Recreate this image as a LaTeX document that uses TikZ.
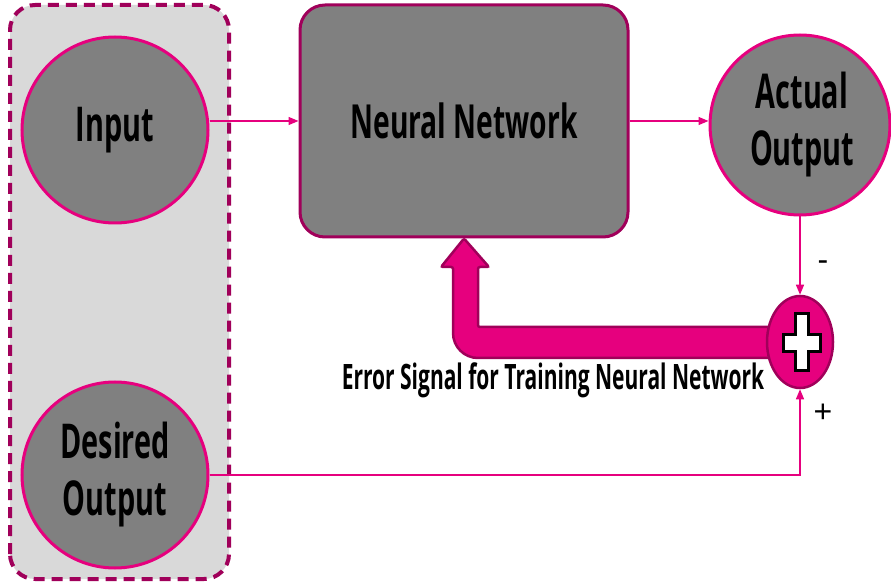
\documentclass[tikz,border=0pt]{standalone}
\usepackage{fontspec}
\setmainfont{Open Sans}
\newfontfamily\boxfont{Open Sans}[FakeStretch=0.6]
\newfontfamily\signfont{Liberation Sans}
\usetikzlibrary{arrows.meta,shapes.geometric}
\definecolor{pink}{HTML}{E6007E}
\definecolor{wine}{HTML}{A0005A}
\definecolor{slate}{HTML}{808080}
\definecolor{paper}{HTML}{D9D9D9}
\begin{document}
\begin{tikzpicture}[x=1pt,y=1pt,
  every node/.style={font=\boxfont\bfseries},
  unit/.style={circle,draw=pink,line width=3pt,fill=slate,minimum size=186pt,
               inner sep=0pt,align=center,font=\boxfont\bfseries\fontsize{48}{57}\selectfont},
  netbox/.style={rectangle,rounded corners=25pt,draw=wine,line width=3pt,fill=slate,
                 minimum width=328pt,minimum height=232pt,
                 font=\boxfont\bfseries\fontsize{47}{55}\selectfont},
  summer/.style={ellipse,draw=wine,line width=2.5pt,fill=pink,
                 minimum width=66pt,minimum height=92pt,inner sep=0pt},
  link/.style={-{Triangle[length=10pt,width=8pt]},draw=pink,line width=1.3pt},
  sign/.style={font=\signfont\fontsize{32}{36}\selectfont}]
\useasboundingbox (0,0) rectangle (891,584);
% data holder
\draw[fill=paper,draw=wine,line width=4pt,dash pattern=on 11pt off 7pt,
      rounded corners=25pt] (10,5) rectangle (229,579);
\node[unit] (inp) at (115,454) {Input};
\node[unit] (des) at (115,109) {Desired\\Output};
\node[netbox] (nn) at (464,463) {Neural Network};
\node[unit,minimum size=180pt] (act) at (800,459) {\hspace*{4pt}Actual\\\hspace*{4pt}Output};
% feedback arrow
\draw[fill=pink,draw=wine,line width=2.5pt,rounded corners=2pt]
  (780,257) -- (478,257) -- (478,317) -- (489,317) -- (nn.south)
  -- (441,317) -- (453,317) [rounded corners=25pt] -- (453,226)
  [rounded corners=2pt] -- (780,226);
\node[summer] (sum) at (800,242) {};
\draw[fill=white,draw=black,line width=3pt,shift={(sum.center)}]
  (-5,28) -- (8,28) -- (8,7) -- (20,7) -- (20,-10) -- (8,-10) -- (8,-29)
  -- (-5,-29) -- (-5,-10) -- (-17,-10) -- (-17,7) -- (-5,7) -- cycle;
\node[font=\boxfont\bfseries\fontsize{35}{40}\selectfont] (err) at (553,204)
  {Error Signal for Training Neural Network};
% connectors
\draw[link] (inp.east |- nn.west) -- (nn.west);
\draw[link] (nn.east) -- (nn.east -| act.west);
\draw[link] (act.south) -- (sum.north);
\draw[link] (des.east) -| (sum.south);
\node[sign] (minus) at (823,318) {-};
\node[sign] (plus) at (823,171) {+};
\end{tikzpicture}
\end{document}
